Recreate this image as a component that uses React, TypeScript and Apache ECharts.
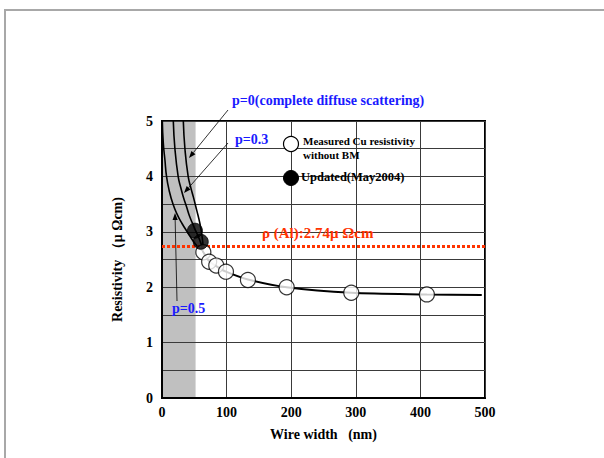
import React, { useEffect, useRef } from "react";
import * as echarts from "echarts";

// ---- data ----
const xTickValues = [0, 100, 200, 300, 400, 500];
const yTickValues = [0, 1, 2, 3, 4, 5];

const grayRange = [[0, 52]];

const curveP0X = [33, 35.5, 40.5, 45, 48.5, 53.5, 58.5, 62, 64];
const curveP0Y = [5.0, 4.5, 4.0, 3.78, 3.63, 3.4, 3.16, 2.92, 2.68];

const curveP03X = [17.5, 20, 25, 29, 33, 38, 43, 48, 52, 56, 60, 63];
const curveP03Y = [5.0, 4.5, 4.0, 3.8, 3.63, 3.45, 3.27, 3.13, 3.02, 2.92, 2.8, 2.68];

const curveP05X = [0.5, 2, 4.5, 7, 11, 17, 24, 31, 39, 46, 53, 58, 63];
const curveP05Y = [5.0, 4.6, 4.3, 4.0, 3.75, 3.5, 3.3, 3.15, 3.0, 2.87, 2.76, 2.7, 2.66];

const tailX = [63, 64, 73, 84, 99, 133, 193, 293, 410, 495];
const tailY = [2.66, 2.63, 2.47, 2.38, 2.28, 2.14, 2.0, 1.9, 1.87, 1.86];

const measuredX = [64, 73, 84, 99, 133, 193, 293, 410];
const measuredY = [2.63, 2.46, 2.39, 2.28, 2.13, 2.0, 1.9, 1.87];

const updatedX = [51, 60];
const updatedY = [3.02, 2.82];

const alResistivity = 2.74;

const zip = (xs: number[], ys: number[]) => xs.map((x, i) => [x, ys[i]]);

const FONT = "'Liberation Serif', 'Times New Roman', serif";
const BLUE = "#1a1aff";
const RED = "#ff3300";

function arrow(x1: number, y1: number, x2: number, y2: number) {
  const dx = x2 - x1;
  const dy = y2 - y1;
  const len = Math.sqrt(dx * dx + dy * dy);
  const ux = dx / len;
  const uy = dy / len;
  const hl = 7;
  const hw = 2.6;
  const bx = x2 - ux * hl;
  const by = y2 - uy * hl;
  return [
    {
      type: "line",
      shape: { x1, y1, x2: bx, y2: by },
      style: { stroke: "#000", lineWidth: 0.8 },
      z: 10,
    },
    {
      type: "polygon",
      shape: {
        points: [
          [x2, y2],
          [bx - uy * hw, by + ux * hw],
          [bx + uy * hw, by - ux * hw],
        ],
      },
      style: { fill: "#000" },
      z: 10,
    },
  ];
}

export default function App() {
  const ref = useRef<HTMLDivElement>(null);

  useEffect(() => {
    if (!ref.current) return;
    const chart = echarts.init(ref.current, null, { renderer: "svg" });

    const curveStyle = { color: "#000", width: 1.6 };

    const option: any = {
      animation: false,
      backgroundColor: "#fff",
      grid: {
        left: 162,
        right: 119,
        top: 121,
        bottom: 60,
        show: true,
        borderColor: "#000",
        borderWidth: 2,
        backgroundColor: "transparent",
      },
      xAxis: {
        type: "value",
        min: 0,
        max: 500,
        interval: 100,
        name: "Wire width   (nm)",
        nameLocation: "middle",
        nameGap: 29,
        nameTextStyle: { fontFamily: FONT, fontWeight: "bold", fontSize: 14, color: "#000" },
        axisLine: { show: true, lineStyle: { color: "#000", width: 2 } },
        axisTick: { show: false },
        axisLabel: {
          fontFamily: FONT,
          fontWeight: "bold",
          fontSize: 14,
          color: "#000",
          margin: 7,
          formatter: (v: number) => (xTickValues.includes(v) ? String(v) : ""),
        },
        splitLine: { show: true, lineStyle: { color: "#3a3a3a", width: 1 } },
      },
      yAxis: {
        type: "value",
        min: 0,
        max: 5,
        interval: 0.5,
        name: "Resistivity （μ Ωcm)",
        nameLocation: "middle",
        nameGap: 38,
        nameTextStyle: { fontFamily: FONT, fontWeight: "bold", fontSize: 14, color: "#000" },
        axisLine: { show: true, lineStyle: { color: "#000", width: 2 } },
        axisTick: { show: false },
        axisLabel: {
          fontFamily: FONT,
          fontWeight: "bold",
          fontSize: 14,
          color: "#000",
          margin: 9,
          formatter: (v: number) => (yTickValues.includes(v) ? String(v) : ""),
        },
        splitLine: { show: true, lineStyle: { color: "#3a3a3a", width: 1 } },
      },
      series: [
        {
          type: "custom",
          z: -1,
          data: grayRange,
          renderItem: (params: any, api: any) => {
            const p0 = api.coord([api.value(0), 5]);
            const p1 = api.coord([api.value(1), 0]);
            return {
              type: "rect",
              shape: { x: p0[0], y: p0[1], width: p1[0] - p0[0], height: p1[1] - p0[1] },
              style: { fill: "#c0c0c0" },
            };
          },
          silent: true,
        },
        {
          type: "line",
          data: zip(curveP0X, curveP0Y),
          showSymbol: false,
          symbol: "none",
          lineStyle: curveStyle,
          smooth: true,
          z: 3,
        },
        {
          type: "line",
          data: zip(curveP03X, curveP03Y),
          showSymbol: false,
          symbol: "none",
          lineStyle: curveStyle,
          smooth: true,
          z: 3,
        },
        {
          type: "line",
          data: zip(curveP05X, curveP05Y),
          showSymbol: false,
          symbol: "none",
          lineStyle: curveStyle,
          smooth: true,
          z: 3,
        },
        {
          type: "line",
          data: zip(tailX, tailY),
          showSymbol: false,
          symbol: "none",
          lineStyle: { color: "#000", width: 2 },
          smooth: 0.3,
          z: 3,
          markLine: {
            silent: true,
            symbol: ["none", "none"],
            label: { show: false },
            lineStyle: { color: RED, type: [3, 2], width: 3 },
            data: [{ yAxis: alResistivity }],
          },
        },
        {
          type: "scatter",
          data: zip(measuredX, measuredY),
          symbol: "circle",
          symbolSize: 15,
          itemStyle: { color: "#fff", borderColor: "#000", borderWidth: 1.2 },
          z: 5,
        },
        {
          type: "scatter",
          data: zip(updatedX, updatedY),
          symbol: "circle",
          symbolSize: 15,
          itemStyle: { color: "#000", borderColor: "#000", borderWidth: 1 },
          z: 6,
        },
      ],
      graphic: [
        {
          type: "polyline",
          shape: { points: [[5, 458], [5, 10], [604, 10]] },
          style: { stroke: "#a8a8a8", lineWidth: 2, fill: "none" },
        },
        {
          type: "text",
          x: 232,
          y: 100,
          style: {
            text: "p=0(complete diffuse scattering)",
            fill: BLUE,
            font: `bold 14px ${FONT}`,
            verticalAlign: "middle",
            align: "left",
          },
          z: 10,
        },
        {
          type: "text",
          x: 235,
          y: 139,
          style: { text: "p=0.3", fill: BLUE, font: `bold 14px ${FONT}`, verticalAlign: "middle", align: "left" },
          z: 10,
        },
        {
          type: "text",
          x: 172,
          y: 308,
          style: { text: "p=0.5", fill: BLUE, font: `bold 14px ${FONT}`, verticalAlign: "middle", align: "left" },
          z: 10,
        },
        {
          type: "text",
          x: 262,
          y: 233,
          style: {
            text: "ρ (Al):2.74μ Ωcm",
            fill: RED,
            font: `bold 15px ${FONT}`,
            verticalAlign: "middle",
            align: "left",
          },
          z: 10,
        },
        {
          type: "circle",
          shape: { cx: 291, cy: 144, r: 7.5 },
          style: { fill: "#fff", stroke: "#000", lineWidth: 1.2 },
          z: 10,
        },
        {
          type: "circle",
          shape: { cx: 291, cy: 178, r: 7.5 },
          style: { fill: "#000", stroke: "#000", lineWidth: 1 },
          z: 10,
        },
        {
          type: "text",
          x: 303,
          y: 141,
          style: { text: "Measured Cu resistivity", fill: "#000", font: `bold 11px ${FONT}`, verticalAlign: "middle", align: "left" },
          z: 10,
        },
        {
          type: "text",
          x: 303,
          y: 155,
          style: { text: "without BM", fill: "#000", font: `bold 11px ${FONT}`, verticalAlign: "middle", align: "left" },
          z: 10,
        },
        {
          type: "text",
          x: 301,
          y: 177,
          style: { text: "Updated(May2004)", fill: "#000", font: `bold 12.5px ${FONT}`, verticalAlign: "middle", align: "left" },
          z: 10,
        },
        ...arrow(228, 110, 189, 158),
        ...arrow(228, 143, 184, 193),
        ...arrow(177, 301, 175, 213),
      ],
    };

    chart.setOption(option);
    return () => chart.dispose();
  }, []);

  return (
    <div
      ref={ref}
      style={{ position: "absolute", left: 0, top: 0, width: 604, height: 458 }}
    />
  );
}
